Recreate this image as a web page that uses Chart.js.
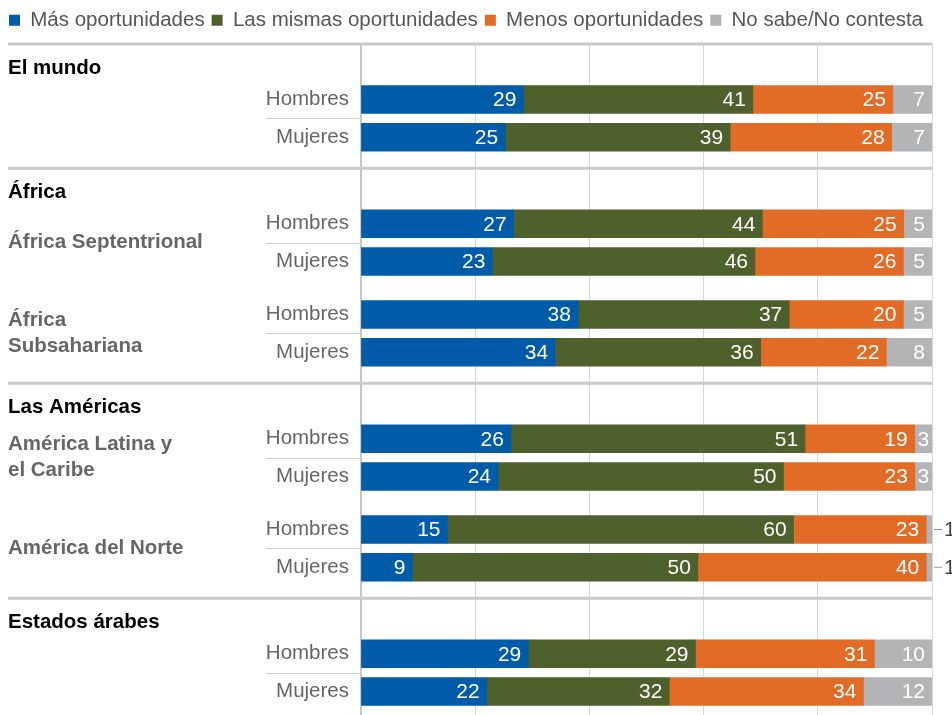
<!DOCTYPE html>
<html lang="es">
<head>
<meta charset="utf-8">
<title>Oportunidades</title>
<script src="https://cdn.jsdelivr.net/npm/chart.js@4.4.1/dist/chart.umd.min.js"></script>
<style>
  html, body { margin: 0; padding: 0; background: #fff; }
  #wrap { width: 952px; height: 715px; }
</style>
</head>
<body>
<div id="wrap"><canvas id="chart" width="952" height="715"></canvas></div>
<script>
const seriesNames = ['Más oportunidades', 'Las mismas oportunidades', 'Menos oportunidades', 'No sabe/No contesta'];
const seriesColors = ['#005ba9', '#4e612c', '#e26c26', '#b2b4b6'];

const groupNames = ['El mundo', 'África', 'Las Américas', 'Estados árabes'];
// one entry per Hombres/Mujeres pair
const pairGroup = [0, 1, 1, 2, 2, 3];
const pairRegion = [[], ['África Septentrional'], ['África', 'Subsahariana'], ['América Latina y', 'el Caribe'], ['América del Norte'], []];
const sexLabels = ['Hombres', 'Mujeres'];

// rows: El mundo H/M, Áfr. Sept. H/M, Subsahariana H/M, Am. Latina H/M, Am. Norte H/M, Estados árabes H/M
const masOportunidades    = [29, 25, 27, 23, 38, 34, 26, 24, 15,  9, 29, 22];
const mismasOportunidades = [41, 39, 44, 46, 37, 36, 51, 50, 60, 50, 29, 32];
const menosOportunidades  = [25, 28, 25, 26, 20, 22, 19, 23, 23, 40, 31, 34];
const noSabe              = [ 7,  7,  5,  5,  5,  8,  3,  3,  1,  1, 10, 12];

const FONT = '"Liberation Sans", Arial, sans-serif';

// vertical layout (y axis units = pixels below the top rule)
const ROW_GAP = 37.75, PAIR_GAP = 53, RULE_GAP = 31, HEAD_GAP = 24.5, HEAD_TO_ROW = 31;
const rowPos = [], rowLabel = [], rulePos = [0], headPos = [], regionPos = [];
let cursor = 0;
pairGroup.forEach((g, i) => {
  let h;
  if (i === 0 || g !== pairGroup[i - 1]) {
    if (i > 0) { cursor += RULE_GAP; rulePos.push(cursor); }
    cursor += HEAD_GAP;
    headPos.push(cursor);
    h = cursor + HEAD_TO_ROW;
  } else {
    h = cursor + PAIR_GAP;
  }
  rowPos.push(h, h + ROW_GAP);
  rowLabel.push(...sexLabels);
  regionPos.push(h + ROW_GAP / 2);
  cursor = h + ROW_GAP;
});
const Y_MAX = 671;

const values = [masOportunidades, mismasOportunidades, menosOportunidades, noSabe];
const totals = rowPos.map((_, r) => values.reduce((s, arr) => s + arr[r], 0));

const datasets = values.map((arr, k) => ({
  label: seriesNames[k],
  data: arr.map((v, r) => ({ x: v / totals[r] * 100, y: rowPos[r] })),
  backgroundColor: seriesColors[k],
  borderWidth: 0,
  barThickness: 28
}));

function line(ctx, x1, y1, x2, y2) {
  ctx.beginPath();
  ctx.moveTo(x1, y1);
  ctx.lineTo(x2, y2);
  ctx.stroke();
}

const decorations = {
  id: 'decorations',
  beforeDatasetsDraw(chart) {
    // grid and axis start at the top rule, not above it
    const { ctx, chartArea, scales: { y } } = chart;
    const top = y.getPixelForValue(0);
    ctx.save();
    ctx.fillStyle = '#fff';
    ctx.fillRect(chartArea.left - 10, chartArea.top - 1, chartArea.right - chartArea.left + 20, top - chartArea.top);
    ctx.restore();
  },
  afterDatasetsDraw(chart) {
    const { ctx } = chart;
    ctx.save();
    ctx.font = '21px ' + FONT;
    ctx.textBaseline = 'middle';
    chart.data.datasets.forEach((ds, k) => {
      const meta = chart.getDatasetMeta(k);
      meta.data.forEach((bar, r) => {
        const text = String(values[k][r]);
        const w = bar.x - bar.base;
        if (w < 10) {
          ctx.strokeStyle = '#999';
          ctx.lineWidth = 1;
          line(ctx, bar.x + 2, bar.y, bar.x + 10, bar.y);
          ctx.fillStyle = '#444';
          ctx.textAlign = 'left';
          ctx.fillText(text, bar.x + 12, bar.y + 1);
        } else if (w < 24) {
          ctx.fillStyle = '#fff';
          ctx.textAlign = 'center';
          ctx.fillText(text, (bar.x + bar.base) / 2, bar.y + 1);
        } else {
          ctx.fillStyle = '#fff';
          ctx.textAlign = 'right';
          ctx.fillText(text, bar.x - 7, bar.y + 1);
        }
      });
    });
    ctx.restore();
  },
  afterDraw(chart) {
    const { ctx, chartArea, scales: { y } } = chart;
    ctx.save();
    // group rules
    ctx.strokeStyle = '#c9c9c9';
    ctx.lineWidth = 3;
    rulePos.forEach(p => {
      const py = y.getPixelForValue(p);
      line(ctx, 8, py, chartArea.right, py);
    });
    // thin rule between Hombres and Mujeres labels
    ctx.strokeStyle = '#d0d0d0';
    ctx.lineWidth = 1;
    regionPos.forEach(p => {
      const py = Math.round(y.getPixelForValue(p)) + 0.5;
      line(ctx, 266, py, chartArea.left, py);
    });
    // group headings
    ctx.textBaseline = 'middle';
    ctx.textAlign = 'left';
    ctx.font = 'bold 20.5px ' + FONT;
    ctx.fillStyle = '#000';
    headPos.forEach((p, i) => ctx.fillText(groupNames[i], 8, y.getPixelForValue(p)));
    // region names
    ctx.fillStyle = '#666';
    pairRegion.forEach((lines, i) => {
      const mid = y.getPixelForValue(regionPos[i]);
      lines.forEach((t, j) => {
        ctx.fillText(t, 8, mid + (j - (lines.length - 1) / 2) * 26);
      });
    });
    ctx.restore();
  }
};

new Chart(document.getElementById('chart'), {
  type: 'bar',
  data: { datasets },
  options: {
    indexAxis: 'y',
    responsive: false,
    animation: false,
    events: [],
    layout: { padding: { top: 3, right: 20, bottom: 0, left: 0 } },
    plugins: {
      tooltip: { enabled: false },
      legend: {
        position: 'top',
        labels: {
          boxWidth: 11,
          boxHeight: 11,
          padding: 7,
          color: '#555',
          font: { family: FONT, size: 20.5 }
        }
      }
    },
    scales: {
      x: {
        type: 'linear',
        stacked: true,
        min: 0,
        max: 100,
        ticks: { display: false, stepSize: 20 },
        grid: { color: '#d6d6d6', lineWidth: 1, drawTicks: false },
        border: { display: false },
        afterFit: s => { s.height = 0; s.paddingLeft = 0; s.paddingRight = 0; }
      },
      y: {
        type: 'linear',
        stacked: true,
        reverse: true,
        offset: false,
        min: -3.5,
        max: Y_MAX,
        afterBuildTicks: s => { s.ticks = rowPos.map(v => ({ value: v })); },
        ticks: {
          autoSkip: false,
          padding: 12,
          color: '#666',
          font: { family: FONT, size: 20.5 },
          callback: v => rowLabel[rowPos.indexOf(v)]
        },
        grid: { display: false, drawTicks: false, offset: false },
        border: { display: true, color: '#c6c6c6', width: 2 },
        afterFit: s => { s.width = 361; s.paddingTop = 0; s.paddingBottom = 0; }
      }
    }
  },
  plugins: [decorations]
});
</script>
</body>
</html>
